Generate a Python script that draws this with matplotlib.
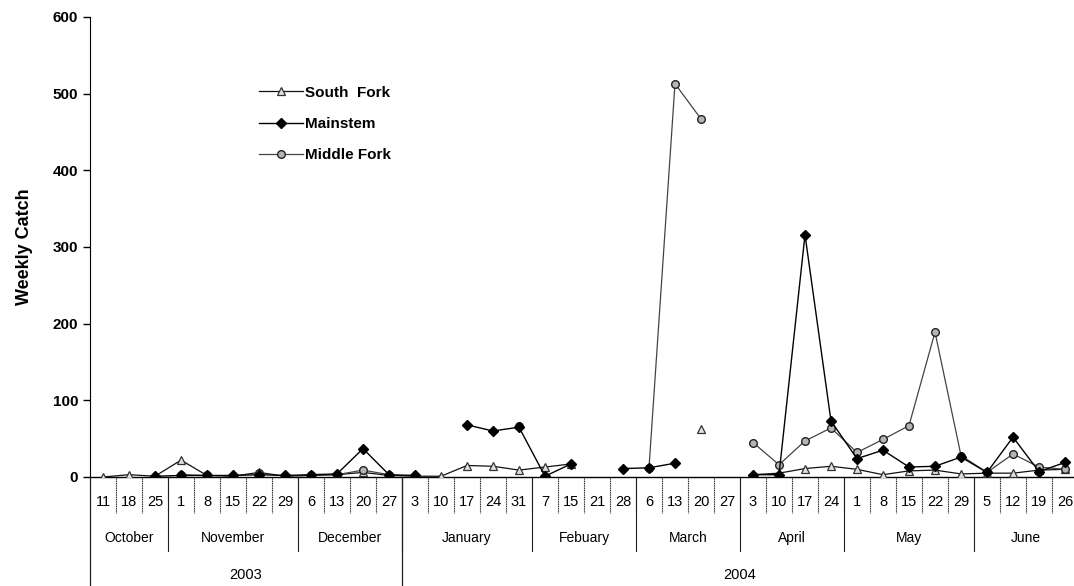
import matplotlib.pyplot as plt
import numpy as np

nan = np.nan

# week-ending days, grouped by month and year
day_labels = ['11', '18', '25',
              '1', '8', '15', '22', '29',
              '6', '13', '20', '27',
              '3', '10', '17', '24', '31',
              '7', '15', '21', '28',
              '6', '13', '20', '27',
              '3', '10', '17', '24',
              '1', '8', '15', '22', '29',
              '5', '12', '19', '26']
months = ['October', 'November', 'December', 'January', 'Febuary',
          'March', 'April', 'May', 'June']
month_weeks = [3, 5, 4, 5, 4, 4, 4, 5, 4]
years = ['2003', '2004']
year_weeks = [12, 26]

# weekly catch per trap site
south_fork = [0, 3, 1, 22, 2, 1, 6, 1, 2, 3, 6, 2,
              1, 1, 15, 14, 9, 13, 17, nan, nan,
              nan, nan, 62, nan,
              3, 5, 11, 14,
              10, 3, 8, 9, 4,
              5, 5, 9, 10]
mainstem = [nan, nan, 1, 2, 2, 2, 3, 2, 3, 4, 37, 3,
            2, nan, 68, 60, 65, 1, 17, nan, 11,
            12, 18, nan, nan,
            3, 3, 316, 73,
            24, 35, 13, 14, 26,
            6, 52, 7, 19]
middle_fork = [nan, nan, nan, 3, 2, nan, 5, nan, 3, 3, 9, 3,
               nan, nan, nan, nan, 66, nan, nan, nan, nan,
               12, 513, 467, nan,
               45, 16, 47, 64,
               32, 49, 67, 189, 28,
               6, 30, 13, 10]

plt.rcParams['font.family'] = ['Liberation Sans', 'DejaVu Sans']

fig = plt.figure(figsize=(10.74, 5.86), dpi=100)
ax = fig.add_axes([90 / 1074, 109 / 586, 988 / 1074, 460 / 586])

x = np.arange(len(day_labels))

ax.plot(x, south_fork, color='#111111', lw=0.9, marker='^', ms=6,
        mfc='#e0e0e0', mec='#333333', mew=0.9, label='South  Fork', zorder=3)
ax.plot(x, middle_fork, color='#444444', lw=0.9, marker='o', ms=5.5,
        mfc='#b5b5b5', mec='#222222', mew=1.0, label='Middle Fork', zorder=4)
ax.plot(x, mainstem, color='black', lw=1.0, marker='D', ms=5,
        mfc='black', mec='black', label='Mainstem', zorder=5)

ax.set_xlim(-0.5, len(day_labels) - 0.5)
ax.set_ylim(0, 600)
ax.set_yticks(range(0, 601, 100))
ax.tick_params(axis='y', direction='out', length=5, width=1, labelsize=11)
for t in ax.get_yticklabels():
    t.set_fontweight('bold')
ax.set_xticks([])
ax.set_ylabel('Weekly Catch', fontsize=13, fontweight='bold', labelpad=14)

for s in ['top', 'right']:
    ax.spines[s].set_visible(False)
ax.spines['bottom'].set_linestyle((0, (1, 1)))
ax.spines['bottom'].set_linewidth(1.0)

# category axis: days, months, years with separators
trans = ax.get_xaxis_transform()
day_bottom, month_bottom, year_bottom = -0.078, -0.16, -0.24
for i, lab in enumerate(day_labels):
    ax.text(i, -0.054, lab, transform=trans, ha='center', va='center',
            fontsize=10.5)
for i in range(len(day_labels) - 1):
    ax.plot([i + 0.5, i + 0.5], [0, day_bottom], transform=trans,
            color='#222222', lw=0.8, ls=(0, (1, 0.6)), clip_on=False)

start = 0
for name, n in zip(months, month_weeks):
    ax.text(start + (n - 1) / 2, -0.133, name, transform=trans,
            ha='center', va='center', fontsize=10)
    end = start + n - 0.5
    if end < len(day_labels) - 0.5:
        ax.plot([end, end], [0, month_bottom], transform=trans,
                color='#222222', lw=0.8, clip_on=False)
    start += n

start = 0
for name, n in zip(years, year_weeks):
    ax.text(start + (n - 1) / 2, -0.213, name, transform=trans,
            ha='center', va='center', fontsize=10.5)
    ax.plot([start - 0.5, start - 0.5], [0, year_bottom], transform=trans,
            color='#222222', lw=0.9, clip_on=False)
    start += n

handles, labels = ax.get_legend_handles_labels()
order = [0, 2, 1]
leg = ax.legend([handles[k] for k in order], [labels[k] for k in order],
                loc='upper left', bbox_to_anchor=(245 / 1074, 1 - 72 / 586),
                bbox_transform=fig.transFigure, frameon=False,
                handlelength=2.9, handletextpad=0.1, labelspacing=1.12,
                prop={'weight': 'bold', 'size': 11})

fig.savefig('out.png', dpi=100)
